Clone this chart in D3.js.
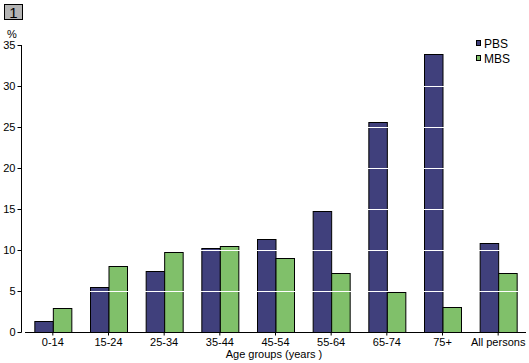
<!DOCTYPE html>
<html><head><meta charset="utf-8">
<script src="https://cdn.jsdelivr.net/npm/d3@7"></script>
<style>body{margin:0;background:#fff}svg{display:block}text{font-family:"Liberation Sans",Arial,sans-serif}</style>
</head><body>
<script>
const categories = ["0-14","15-24","25-34","35-44","45-54","55-64","65-74","75+","All persons"];
const pbs = [1.4, 5.5, 7.5, 10.2, 11.3, 14.8, 25.6, 33.9, 10.8];
const mbs = [2.9, 8.1, 9.8, 10.45, 9.0, 7.2, 4.85, 3.1, 7.2];
const seriesNames = ["PBS","MBS"];
const colors = ["#40407c","#80c06a"];
const yTicks = [0,5,10,15,20,25,30,35];

const W = 529, H = 363;
const svg = d3.select("body").append("svg").attr("width", W).attr("height", H);

const x = d3.scaleBand().domain(categories).range([25, 526]).paddingInner(0).paddingOuter(0);
const xs = d3.scaleBand().domain(seriesNames).range([0, 37]);
const y = d3.scaleLinear().domain([0, 35]).range([332, 45]);
const off = (x.bandwidth() - 37) / 2;

// bars
const data = categories.map((c, i) => ({c, vals: [pbs[i], mbs[i]]}));
const g = svg.append("g");
data.forEach(d => {
  d.vals.forEach((v, j) => {
    g.append("rect")
      .attr("x", x(d.c) + off + xs(seriesNames[j]) + 0.5)
      .attr("y", Math.round(y(v)) + 0.5)
      .attr("width", xs.bandwidth())
      .attr("height", 332 - Math.round(y(v)))
      .attr("fill", colors[j]).attr("stroke", "#000").attr("stroke-width", 1);
  });
});

// white gridlines over bars
svg.append("g").selectAll("line").data(yTicks.filter(t => t > 0)).join("line")
  .attr("x1", 26).attr("x2", 526)
  .attr("y1", d => Math.round(y(d)) + 0.5).attr("y2", d => Math.round(y(d)) + 0.5)
  .attr("stroke", "#fff").attr("stroke-width", 1);

// y axis
const ya = svg.append("g").attr("transform", "translate(21.5,0)")
  .call(d3.axisLeft(y).tickValues(yTicks).tickSize(4).tickPadding(2).tickSizeOuter(0));
ya.select(".domain").attr("stroke", "#000").attr("d", `M0,${y(35)}V${y(0)+0.5}`);
ya.selectAll(".tick line").attr("stroke", "#000");
ya.selectAll(".tick text").attr("font-size", 11).attr("fill", "#000")
  .attr("font-family", "Liberation Sans, Arial, sans-serif");

// x axis
const xa = svg.append("g").attr("transform", "translate(0,332.5)")
  .call(d3.axisBottom(x).tickSize(3).tickPadding(3).tickSizeOuter(0));
xa.select(".domain").attr("stroke", "#000").attr("d", "M25,0H526");
xa.selectAll(".tick line").attr("stroke", "#000");
xa.selectAll(".tick text").attr("font-size", 11).attr("fill", "#000")
  .attr("font-family", "Liberation Sans, Arial, sans-serif");

// axis titles
svg.append("text").attr("x", 274).attr("y", 358).attr("text-anchor", "middle")
  .attr("font-size", 11).text("Age groups (years )");
svg.append("text").attr("x", 12).attr("y", 38).attr("text-anchor", "middle")
  .attr("font-size", 11).text("%");

// panel number box
svg.append("rect").attr("x", 4.5).attr("y", 4.5).attr("width", 18).attr("height", 15)
  .attr("fill", "#b4b4b4").attr("stroke", "#000");
svg.append("text").attr("x", 13.5).attr("y", 17.5).attr("text-anchor", "middle")
  .attr("font-size", 15).attr("font-family", "Liberation Serif, serif").text("1");

// legend
const lg = svg.append("g");
seriesNames.forEach((n, j) => {
  const yy = 43 + j * 15;
  lg.append("rect").attr("x", 476.5).attr("y", yy - 2.5).attr("width", 4).attr("height", 5)
    .attr("fill", colors[j]).attr("stroke", "#000");
  lg.append("text").attr("x", 484).attr("y", yy + 4.5).attr("font-size", 12).text(n);
});
</script>
</body></html>
